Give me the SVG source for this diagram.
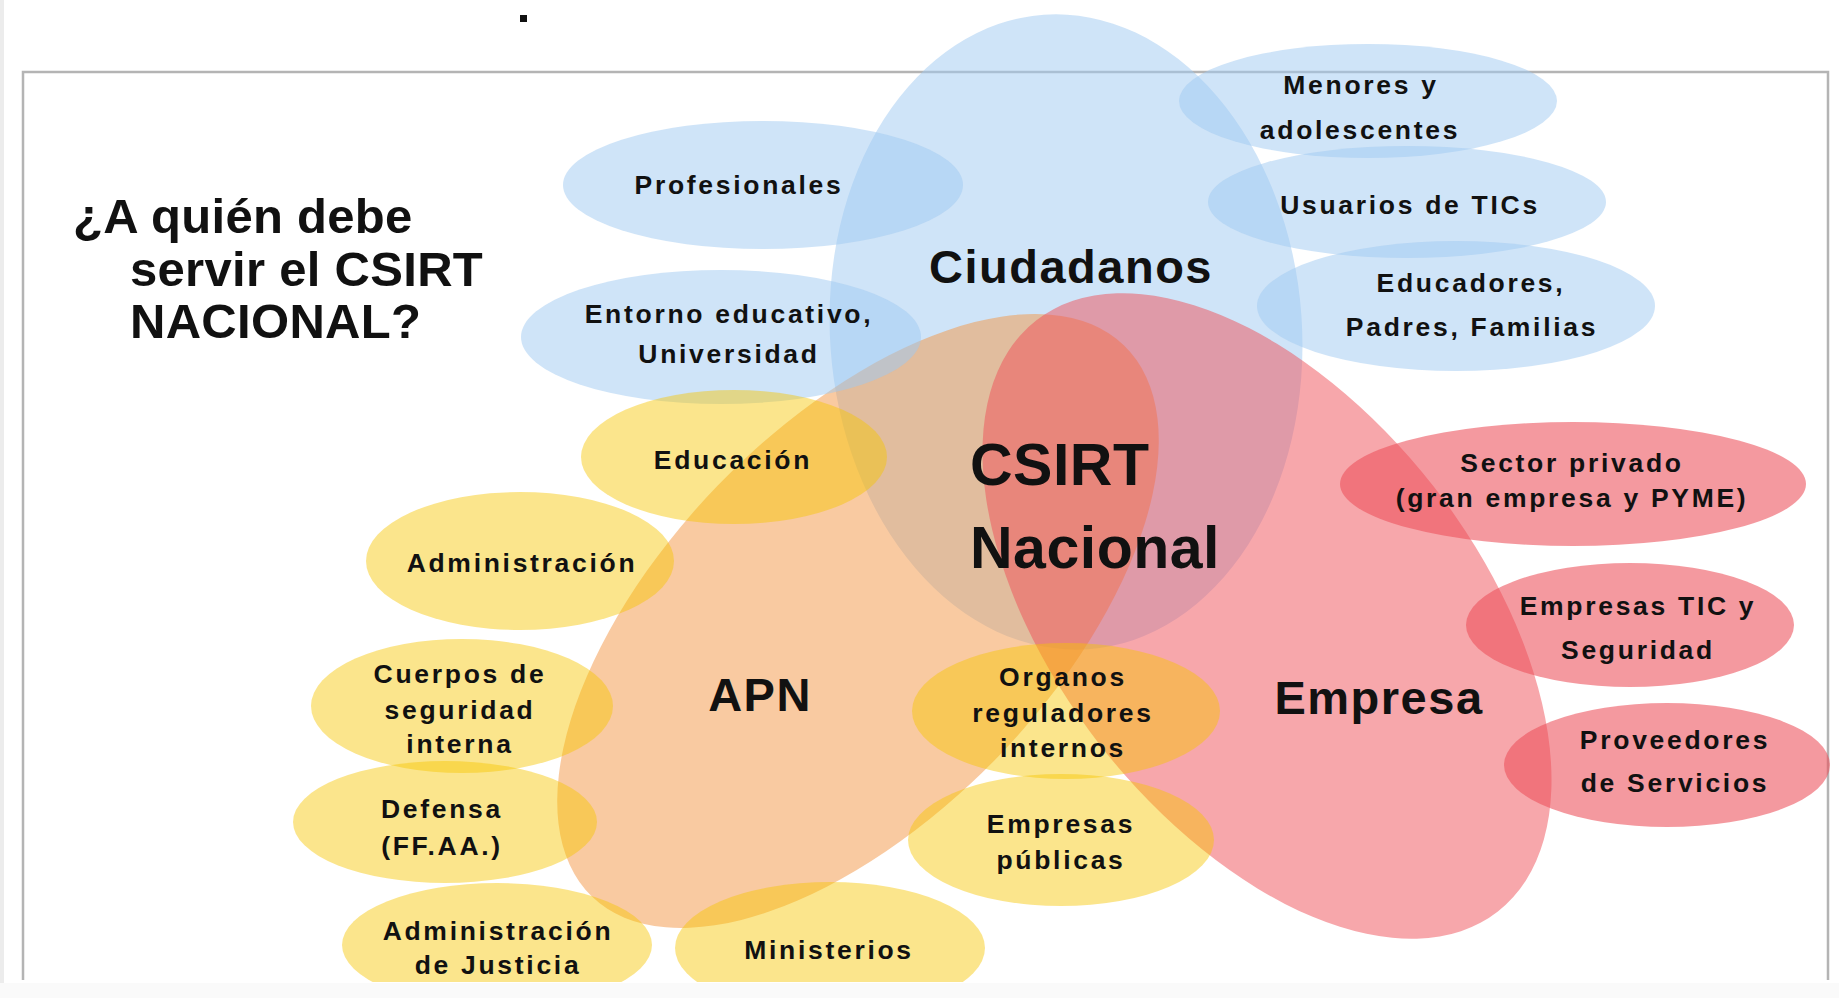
<svg xmlns="http://www.w3.org/2000/svg" width="1839" height="998" viewBox="0 0 1839 998">
<defs>
<style>
.bg{fill:#ffffff}
.frame{fill:none;stroke:#b4b4b4;stroke-width:2.5}
.blue{fill:#9fc9f1;fill-opacity:0.5}
.orange{fill:#f39543;fill-opacity:0.5}
.red{fill:#ef4f57;fill-opacity:0.5}
.yel{fill:#f7c600;fill-opacity:0.45}
.reds{fill:#ec4f5a;fill-opacity:0.58}
text{font-family:"Liberation Sans",Arial,sans-serif;font-weight:bold;fill:#111111}
.lbl{font-size:26.5px;letter-spacing:2.7px;text-anchor:middle}
.big{font-size:47px;letter-spacing:1.5px;text-anchor:middle}
.title{font-size:49px;letter-spacing:0.3px}
.core{font-size:59px;letter-spacing:0.5px}
</style>
<clipPath id="clip"><rect x="0" y="0" width="1839" height="982"/></clipPath>
</defs>
<rect class="bg" x="0" y="0" width="1839" height="998"/>
<rect x="0" y="0" width="4" height="998" fill="#ececec"/>
<rect x="0" y="983" width="1839" height="15" fill="#fafafa"/>
<path class="frame" d="M23,980 V72 H1828 V980"/>
<rect x="520" y="15" width="7" height="7" fill="#111"/>
<g id="title">
<text class="title" x="73" y="233">¿A quién debe</text>
<text class="title" x="130" y="286">servir el CSIRT</text>
<text class="title" x="130" y="338">NACIONAL?</text>
</g>
<g clip-path="url(#clip)">
<g id="ciudadanos"><ellipse class="blue" cx="1066" cy="332" rx="236" ry="318" transform="rotate(-4 1066 332)"/></g>
<g id="apn"><ellipse class="orange" cx="858" cy="621" rx="383" ry="195" transform="rotate(-46 858 621)"/></g>
<g id="empresa"><ellipse class="red" cx="1267" cy="616" rx="375" ry="211" transform="rotate(52 1267 616)"/></g>
<g id="profesionales"><ellipse class="blue" cx="763" cy="185" rx="200" ry="64"/></g>
<g id="entorno"><ellipse class="blue" cx="721" cy="337" rx="200" ry="67"/></g>
<g id="menores"><ellipse class="blue" cx="1368" cy="101" rx="189" ry="57"/></g>
<g id="usuarios"><ellipse class="blue" cx="1407" cy="202" rx="199" ry="56"/></g>
<g id="educadores"><ellipse class="blue" cx="1456" cy="306" rx="199" ry="65"/></g>
<g id="sector"><ellipse class="reds" cx="1573" cy="484" rx="233" ry="62"/></g>
<g id="empresastic"><ellipse class="reds" cx="1630" cy="625" rx="164" ry="62"/></g>
<g id="proveedores"><ellipse class="reds" cx="1667" cy="765" rx="163" ry="62"/></g>
<g id="educacion"><ellipse class="yel" cx="734" cy="457" rx="153" ry="67"/></g>
<g id="administracion"><ellipse class="yel" cx="520" cy="561" rx="154" ry="69"/></g>
<g id="cuerpos"><ellipse class="yel" cx="462" cy="706" rx="151" ry="67"/></g>
<g id="defensa"><ellipse class="yel" cx="445" cy="822" rx="152" ry="61"/></g>
<g id="justicia"><ellipse class="yel" cx="497" cy="945" rx="155" ry="62"/></g>
<g id="ministerios"><ellipse class="yel" cx="830" cy="948" rx="155" ry="66"/></g>
<g id="organos"><ellipse class="yel" cx="1066" cy="711" rx="154" ry="68"/></g>
<g id="publicas"><ellipse class="yel" cx="1061" cy="840" rx="153" ry="66"/></g>
</g>
<g id="labels">
<text class="big" x="1071" y="283">Ciudadanos</text>
<text class="big" x="760" y="711">APN</text>
<text class="big" x="1379" y="714">Empresa</text>
<text class="core" x="970" y="485">CSIRT</text>
<text class="core" x="970" y="568">Nacional</text>
<text class="lbl" x="739" y="194">Profesionales</text>
<text class="lbl" x="729" y="323">Entorno educativo,</text>
<text class="lbl" x="729" y="363">Universidad</text>
<text class="lbl" x="1361" y="94">Menores y</text>
<text class="lbl" x="1360" y="139">adolescentes</text>
<text class="lbl" x="1410" y="214">Usuarios de TICs</text>
<text class="lbl" x="1471" y="292">Educadores,</text>
<text class="lbl" x="1472" y="336">Padres, Familias</text>
<text class="lbl" x="733" y="469">Educación</text>
<text class="lbl" x="522" y="572">Administración</text>
<text class="lbl" x="460" y="683">Cuerpos de</text>
<text class="lbl" x="460" y="719">seguridad</text>
<text class="lbl" x="460" y="753">interna</text>
<text class="lbl" x="442" y="818">Defensa</text>
<text class="lbl" x="442" y="855">(FF.AA.)</text>
<text class="lbl" x="498" y="940">Administración</text>
<text class="lbl" x="498" y="974">de Justicia</text>
<text class="lbl" x="829" y="959">Ministerios</text>
<text class="lbl" x="1063" y="686">Organos</text>
<text class="lbl" x="1063" y="722">reguladores</text>
<text class="lbl" x="1063" y="757">internos</text>
<text class="lbl" x="1061" y="833">Empresas</text>
<text class="lbl" x="1061" y="869">públicas</text>
<text class="lbl" x="1572" y="472">Sector privado</text>
<text class="lbl" x="1572" y="507">(gran empresa y PYME)</text>
<text class="lbl" x="1638" y="615">Empresas TIC y</text>
<text class="lbl" x="1638" y="659">Seguridad</text>
<text class="lbl" x="1675" y="749">Proveedores</text>
<text class="lbl" x="1675" y="792">de Servicios</text>
</g>
</svg>
